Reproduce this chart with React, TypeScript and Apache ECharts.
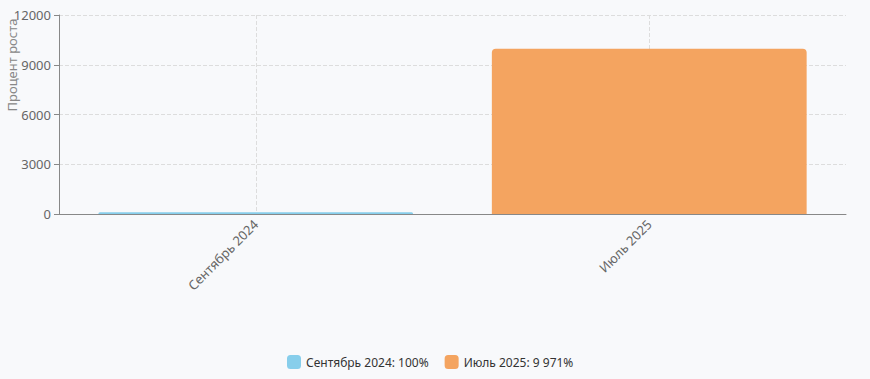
import React, { useEffect, useRef } from "react";
import * as echarts from "echarts";

const categories = ["Сентябрь 2024", "Июль 2025"];
const values = [100, 9971];
const colors = ["#87CEEB", "#F4A460"];
const yTicks = { min: 0, max: 12000, interval: 3000 };
const yAxisTitle = "Процент роста";

function fmt(n: number): string {
  return String(n).replace(/\B(?=(\d{3})+(?!\d))/g, " ");
}

export default function App() {
  const ref = useRef<HTMLDivElement>(null);
  useEffect(() => {
    document.body.style.margin = "0";
    document.body.style.background = "#F8F9FB";
    const chart = echarts.init(ref.current!, null, { renderer: "svg" });
    const font = "'Noto Sans', 'Open Sans', sans-serif";
    chart.setOption({
      animation: false,
      backgroundColor: "#F8F9FB",
      textStyle: { fontFamily: font },
      grid: { left: 59, right: 24, top: 15, bottom: 165 },
      legend: {
        left: 282,
        bottom: 5,
        itemWidth: 14,
        itemHeight: 14,
        itemGap: 16,
        icon: "roundRect",
        textStyle: { fontSize: 12, color: "#333", fontFamily: font },
        data: categories,
        formatter: (name: string) => {
          const i = categories.indexOf(name);
          return `${name}: ${fmt(values[i])}%`;
        },
      },
      graphic: [
        {
          type: "text",
          x: 12,
          y: 65,
          rotation: Math.PI / 2,
          style: {
            text: yAxisTitle,
            fill: "#888",
            font: `13px ${font}`,
            textAlign: "center",
            textVerticalAlign: "middle",
          },
        },
      ],
      xAxis: {
        type: "category",
        data: categories,
        axisLine: { lineStyle: { color: "#888" } },
        axisTick: { alignWithLabel: true, lineStyle: { color: "#888" } },
        axisLabel: { rotate: 45, color: "#666", fontSize: 13, fontFamily: font, margin: 8 },
        splitLine: { show: true, alignWithLabel: true, lineStyle: { type: "dashed", color: "#ddd" } },
      },
      yAxis: {
        type: "value",
        min: yTicks.min,
        max: yTicks.max,
        interval: yTicks.interval,
        axisLine: { show: true, lineStyle: { color: "#888" } },
        axisTick: { show: true, lineStyle: { color: "#888" } },
        axisLabel: { color: "#666", fontSize: 13, fontFamily: font, formatter: (v: number) => String(v) },
        splitLine: { show: true, lineStyle: { type: "dashed", color: "#ddd" } },
      },
      series: categories.map((c, i) => ({
        name: c,
        type: "bar",
        stack: "total",
        barWidth: "80%",
        itemStyle: { color: colors[i], borderRadius: [4, 4, 0, 0] },
        data: categories.map((_, j) => (j === i ? values[i] : "-")),
      })),
    });
    return () => chart.dispose();
  }, []);
  return <div ref={ref} style={{ width: 870, height: 379 }} />;
}
